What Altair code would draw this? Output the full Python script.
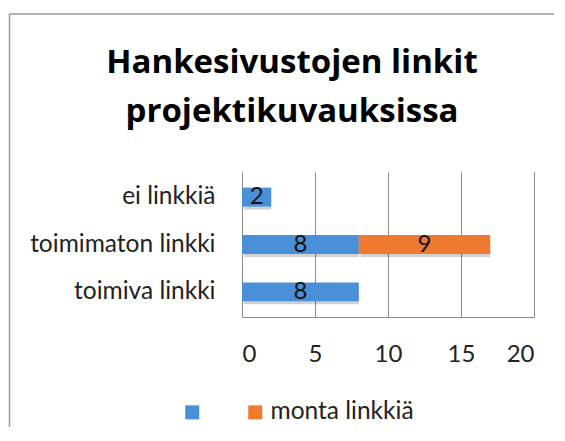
import altair as alt
import pandas as pd

categories = ["ei linkkiä", "toimimaton linkki", "toimiva linkki"]
series_names = [" ", "monta linkkiä"]
series_one = [2, 8, 8]
series_two = [0, 9, 0]
x_ticks = [0, 5, 10, 15, 20]
title_lines = ["Hankesivustojen linkit", "projektikuvauksissa"]
colors = ["#4A90D8", "#EE7A30"]

rows = []
for i, c in enumerate(categories):
    for j, vals in enumerate([series_one, series_two]):
        if vals[i] > 0:
            rows.append({"category": c, "series": series_names[j], "order": j, "value": vals[i]})
df = pd.DataFrame(rows)

FONT = "Lato"
FS = 24.5

base = alt.Chart(df).transform_stack(
    stack="value", groupby=["category"], as_=["v0", "v1"], sort=[alt.SortField("order")]
).transform_calculate(mid="(datum.v0 + datum.v1) / 2")

yenc = alt.Y("category:N", sort=categories, title=None,
             scale=alt.Scale(paddingInner=0.6, paddingOuter=0.33))

shadow = base.mark_bar(color="#000000", opacity=0.18, xOffset=2, yOffset=3).encode(
    y=yenc,
    x=alt.X("v0:Q"),
    x2="v1:Q",
)

bars = base.mark_bar().encode(
    y=yenc,
    x=alt.X("v0:Q", title=None,
            scale=alt.Scale(domain=[0, 20], nice=False),
            axis=alt.Axis(values=x_ticks, grid=True, ticks=False, gridColor="#8a8a8a",
                          domainColor="#8a8a8a", labelFontSize=24, labelPadding=25,
                          labelColor="#222222", labelFont=FONT)),
    x2="v1:Q",
    color=alt.Color("series:N", sort=series_names,
                    scale=alt.Scale(domain=series_names, range=colors),
                    legend=alt.Legend(title=None, orient="none", legendX=-62, legendY=228,
                                      direction="horizontal", symbolType="square",
                                      symbolSize=196, symbolStrokeWidth=0,
                                      labelFontSize=FS, labelFont=FONT, labelColor="#222222",
                                      labelOffset=3, columnPadding=35, padding=0)),
)

labels = base.mark_text(fontSize=24, font=FONT, color="#111111", baseline="middle").encode(
    y=yenc,
    x=alt.X("mid:Q"),
    text="value:Q",
)

frame = alt.Chart(alt.Data(values=[{}]))
left_line = frame.mark_rule(color="#9a9a9a", strokeWidth=1.5).encode(
    x=alt.value(-232.5), y=alt.value(-158), y2=alt.value(280))
top_line = frame.mark_rule(color="#9a9a9a", strokeWidth=1.5).encode(
    x=alt.value(-233), x2=alt.value(330), y=alt.value(-158))

chart = alt.layer(shadow, bars, labels, left_line, top_line).properties(
    width=292, height=145,
    title=alt.TitleParams(title_lines, fontSize=33, font="Open Sans", fontWeight="bold",
                          color="#000000", anchor="middle", frame="group", dx=-96,
                          offset=0, dy=115.5, lineHeight=48.5),
    autosize=alt.AutoSizeParams(type="none"),
    padding={"left": 234, "top": 164, "right": 20, "bottom": 110},
).configure_view(stroke=None).configure_axisY(
    domain=False, ticks=False, labelFontSize=FS, labelPadding=27, labelColor="#222222",
    labelFont=FONT, labelLimit=300
)

chart.save("out.html", embed_options={"renderer": "svg", "actions": False})
